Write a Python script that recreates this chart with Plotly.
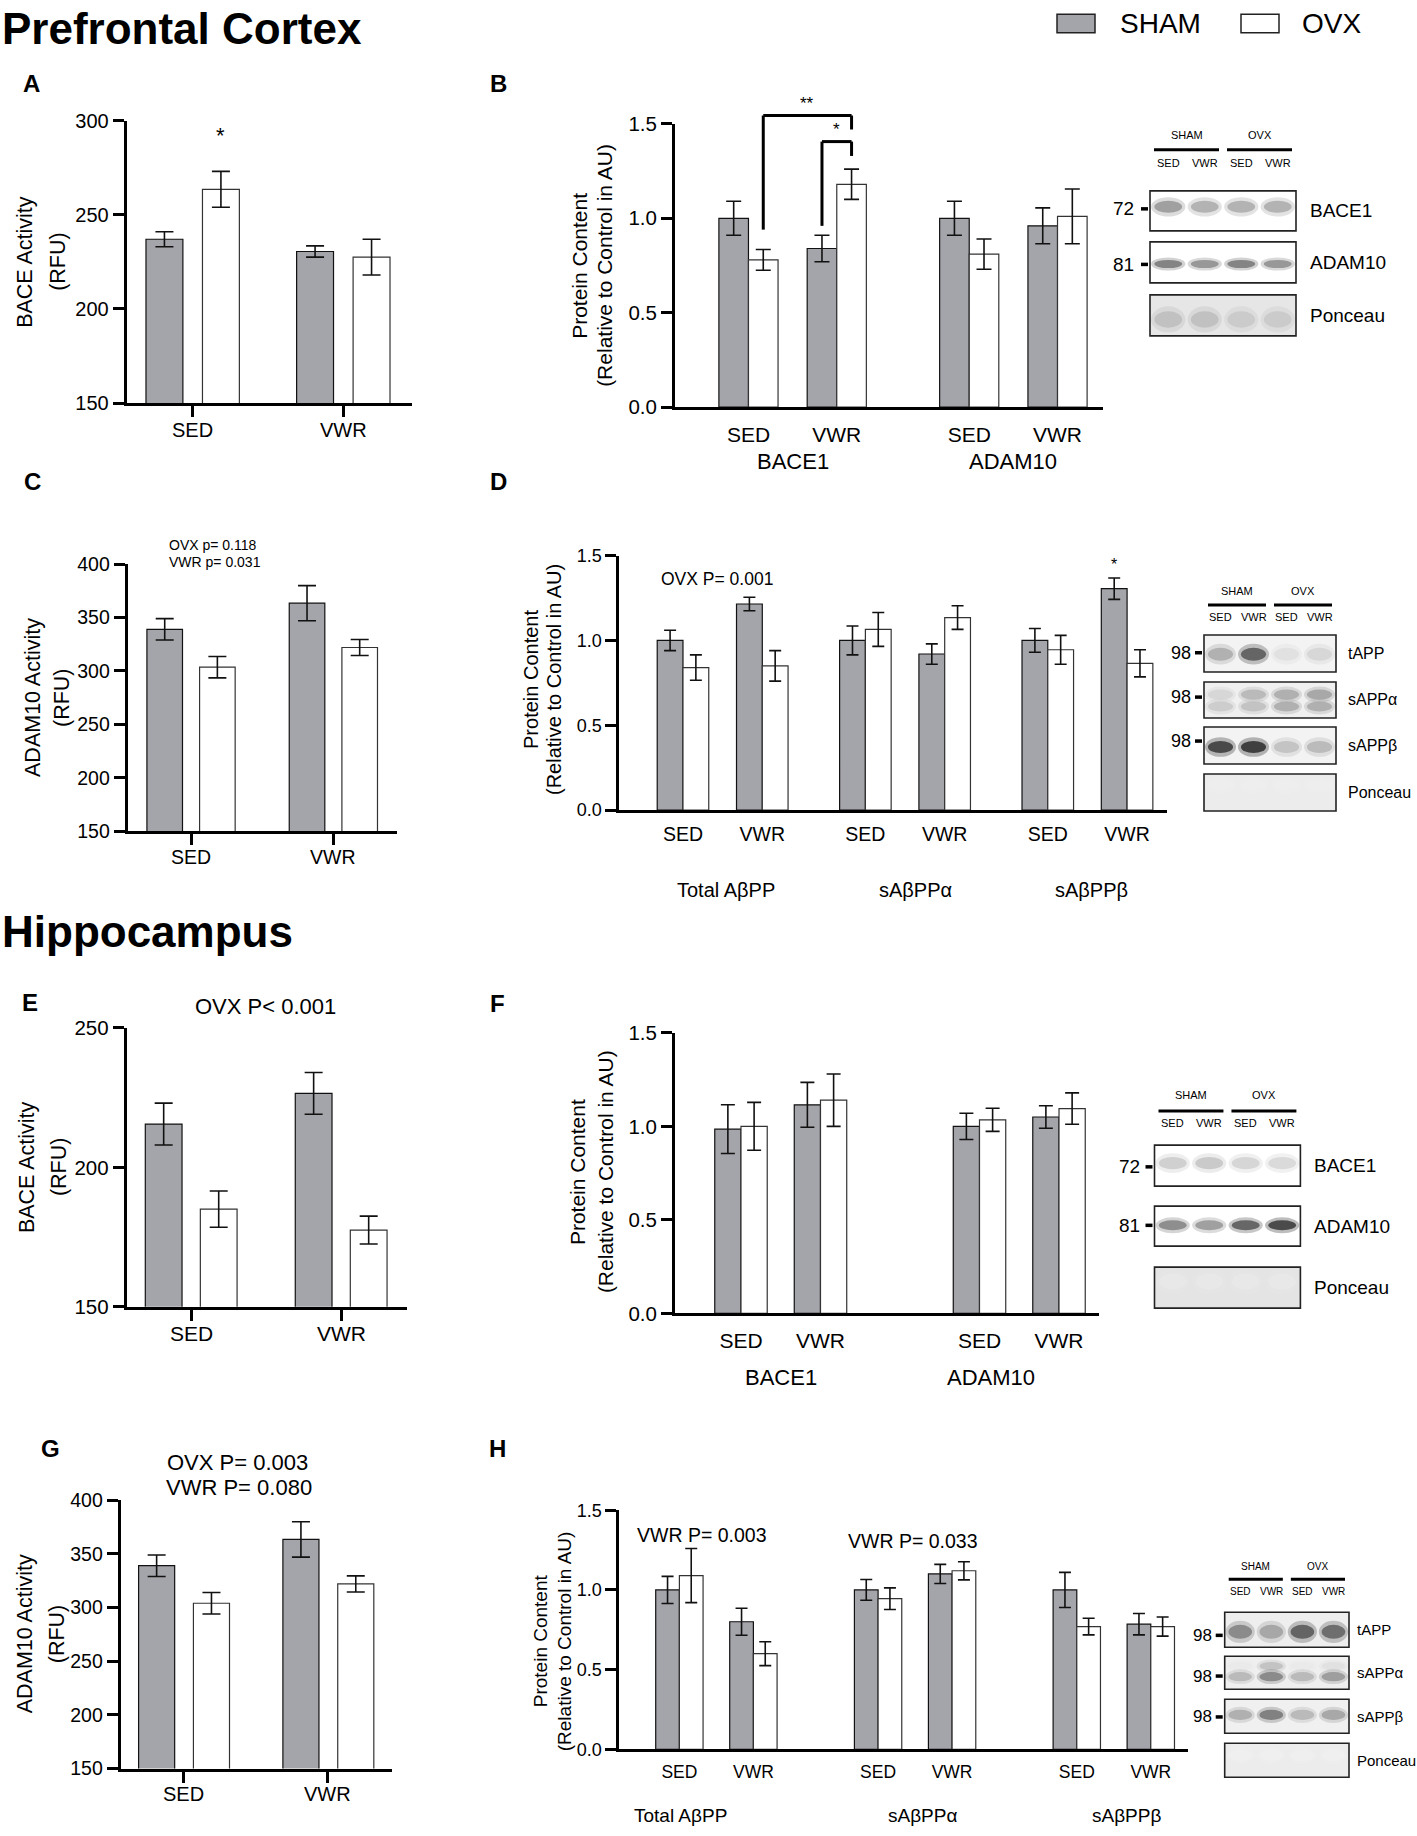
import plotly.graph_objects as go

W, H = 1417, 1836
FONT = "Liberation Sans, Arial, Helvetica, sans-serif"
SHAM_FILL = "#a4a5aa"
# the photographed page shows the figure slightly shifted / compressed vertically;
# layout positions (in reference pixels) are mapped through this correction
V_OFF, V_SC = 12.2, 0.9872

# ------------------------------------------------------------------ data
conditions = ["SED", "VWR"]
enzyme_groups = ["BACE1", "ADAM10"]
app_groups = ["Total AβPP", "sAβPPα", "sAβPPβ"]
blot_lanes = ["SED", "VWR", "SED", "VWR"]
blot_groups = ["SHAM", "OVX"]

# A: PFC BACE activity (RFU)
A_sham = [237.0, 230.5]
A_sham_err = [4.0, 3.0]
A_ovx = [263.5, 227.5]
A_ovx_err = [9.5, 9.5]

# B: PFC BACE1 / ADAM10 protein content (AU)
B_sham = [1.00, 0.84, 1.00, 0.96]
B_sham_err = [0.09, 0.07, 0.09, 0.095]
B_ovx = [0.78, 1.18, 0.81, 1.01]
B_ovx_err = [0.055, 0.08, 0.08, 0.145]
# brackets: (from bar, to bar, top, left leg bottom, right leg bottom, label)
B_brackets = [(("ovx", 0), ("ovx", 1), 1.544, 0.94, 1.47, "**"),
              (("sham", 1), ("ovx", 1), 1.406, 0.96, 1.33, "*")]

# C: PFC ADAM10 activity (RFU)
C_sham = [339.0, 363.5]
C_sham_err = [10.0, 16.5]
C_ovx = [303.5, 322.0]
C_ovx_err = [10.0, 7.5]

# D: PFC APP fragments (AU)
D_sham = [1.00, 1.215, 1.00, 0.92, 1.00, 1.305]
D_sham_err = [0.06, 0.04, 0.085, 0.06, 0.07, 0.063]
D_ovx = [0.84, 0.85, 1.065, 1.135, 0.945, 0.865]
D_ovx_err = [0.075, 0.09, 0.10, 0.07, 0.085, 0.08]

# E: HIP BACE activity (RFU)
E_sham = [215.5, 226.5]
E_sham_err = [7.5, 7.5]
E_ovx = [185.0, 177.5]
E_ovx_err = [6.5, 5.0]

# F: HIP BACE1 / ADAM10 protein content (AU)
F_sham = [0.985, 1.115, 1.00, 1.05]
F_sham_err = [0.13, 0.12, 0.07, 0.06]
F_ovx = [1.00, 1.14, 1.035, 1.095]
F_ovx_err = [0.128, 0.14, 0.062, 0.084]

# G: HIP ADAM10 activity (RFU)
G_sham = [339.0, 363.5]
G_sham_err = [10.0, 16.5]
G_ovx = [304.0, 322.0]
G_ovx_err = [10.0, 7.5]

# H: HIP APP fragments (AU)
H_sham = [1.00, 0.80, 1.00, 1.10, 1.00, 0.785]
H_sham_err = [0.085, 0.085, 0.065, 0.06, 0.11, 0.067]
H_ovx = [1.09, 0.60, 0.945, 1.12, 0.77, 0.77]
H_ovx_err = [0.17, 0.075, 0.068, 0.057, 0.052, 0.06]

# western blot band intensities (0..1), lanes SHAM-SED, SHAM-VWR, OVX-SED, OVX-VWR
blotB_BACE1 = [0.50, 0.40, 0.40, 0.40]
blotB_ADAM10 = [0.65, 0.55, 0.65, 0.55]
blotB_Ponceau = [0.30, 0.30, 0.25, 0.25]
blotD_tAPP = [0.40, 0.80, 0.15, 0.20]
blotD_sAPPa_up = [0.20, 0.35, 0.40, 0.45]
blotD_sAPPa_lo = [0.25, 0.30, 0.40, 0.40]
blotD_sAPPb = [0.95, 1.00, 0.30, 0.35]
blotD_Ponceau = [0.08, 0.08, 0.08, 0.08]
blotF_BACE1 = [0.25, 0.28, 0.22, 0.20]
blotF_ADAM10 = [0.60, 0.50, 0.80, 0.95]
blotF_Ponceau = [0.10, 0.10, 0.10, 0.10]
blotH_tAPP = [0.60, 0.45, 0.80, 0.75]
blotH_sAPPa = [0.35, 0.60, 0.35, 0.50]
blotH_sAPPa_up = [0.10, 0.30, 0.10, 0.15]
blotH_sAPPb = [0.40, 0.65, 0.35, 0.45]
blotH_Ponceau = [0.07, 0.07, 0.07, 0.07]


# ------------------------------------------------------------------ helpers
def X(px):
    return px / W


def Y(py):
    return 1 - ((py - V_OFF) / V_SC) / H


fig = go.Figure()
shapes, anns, axes = [], [], {}


def add_text(x, y, s, size, bold=False, xanchor="center", angle=0,
             xref="paper", yref="paper", xshift=0, color="black"):
    anns.append(dict(
        x=X(x) if xref == "paper" else x,
        y=Y(y) if yref == "paper" else y,
        xref=xref, yref=yref, text=f"<b>{s}</b>" if bold else s,
        showarrow=False, xanchor=xanchor, yanchor="middle", textangle=angle,
        xshift=xshift, font=dict(family=FONT, size=size, color=color)))


def add_line_px(x0, y0, x1, y1, width=3, color="black"):
    shapes.append(dict(type="line", xref="paper", yref="paper",
                       x0=X(x0), y0=Y(y0), x1=X(x1), y1=Y(y1),
                       line=dict(color=color, width=width)))


def add_box_px(x0, y0, x1, y1, fill, lw=1.5, lc="black", kind="rect", opacity=1.0):
    shapes.append(dict(type=kind, xref="paper", yref="paper",
                       x0=X(x0), y0=Y(y1), x1=X(x1), y1=Y(y0),
                       fillcolor=fill, opacity=opacity,
                       line=dict(color=lc, width=lw)))


def add_panel(n, sham, sham_err, ovx, ovx_err, g):
    sfx = "" if n == 1 else str(n)
    xs = [k * g["stride"] + j for k in range(g["ngroups"]) for j in range(len(conditions))]
    common = dict(width=g["barw"], xaxis="x" + sfx, yaxis="y" + sfx, hoverinfo="skip")
    fig.add_trace(go.Bar(
        x=xs, y=sham, offset=g["off"][0],
        marker=dict(color=SHAM_FILL, line=dict(color="#111111", width=1.2)),
        error_y=dict(type="data", array=sham_err, visible=True, color="#111111",
                     thickness=1.6, width=g["cap"]), **common))
    fig.add_trace(go.Bar(
        x=xs, y=ovx, offset=g["off"][1],
        marker=dict(color="white", line=dict(color="#333333", width=1.2)),
        error_y=dict(type="data", array=ovx_err, visible=True, color="#111111",
                     thickness=1.6, width=g["cap"]), **common))
    x0, x1 = g["xpx"]
    y0, y1 = g["ypx"]
    own_labels = "xlabel_y" in g
    axes["xaxis" + sfx] = dict(
        domain=[X(x0), X(x1)], range=g["xrange"], anchor="y" + sfx,
        tickmode="array", tickvals=xs, ticktext=conditions * g["ngroups"],
        showticklabels=not own_labels,
        ticks="outside", ticklen=g["xticklen"], tickwidth=3,
        tickcolor="black" if g["xticks"] else "rgba(0,0,0,0)",
        showline=True, linecolor="black", linewidth=3, showgrid=False, zeroline=False,
        tickfont=dict(family=FONT, size=g["xfont"], color="black"), fixedrange=True)
    axes["yaxis" + sfx] = dict(
        domain=[Y(y1), Y(y0)], range=g["yrange"], anchor="x" + sfx,
        tickmode="linear", tick0=g["yrange"][0], dtick=g["dtick"], tickformat=g.get("fmt", ""),
        ticks="outside", ticklen=11, tickwidth=3, tickcolor="black",
        showline=True, linecolor="black", linewidth=3, showgrid=False, zeroline=False,
        tickfont=dict(family=FONT, size=g["yfont"], color="black"), fixedrange=True)
    if own_labels:
        for xv, lab in zip(xs, conditions * g["ngroups"]):
            add_text(xv, g["xlabel_y"], lab, g["xfont"], xref="x" + sfx)
    return xs


def add_blot(spec):
    bx0, bx1 = spec["x"]
    lane_w = (bx1 - bx0) / len(blot_lanes)
    centers = [bx0 + (i + 0.5) * lane_w for i in range(len(blot_lanes))]
    mid = (bx0 + bx1) / 2
    for k, grp in enumerate(blot_groups):
        gx0, gx1 = (bx0, mid) if k == 0 else (mid, bx1)
        add_text((gx0 + gx1) / 2, spec["hdr_y"], grp, spec["hdr_size"])
        add_line_px(gx0 + 4, spec["line_y"], gx1 - 4, spec["line_y"], width=3)
    for c, lane in zip(centers, blot_lanes):
        add_text(c, spec["lane_y"], lane, spec["lane_size"])
    for row in spec["rows"]:
        ry0, ry1 = row["y"]
        h = ry1 - ry0
        add_box_px(bx0, ry0, bx1, ry1, row["bg"], lw=0)
        for rel_y, rel_h, intens in row["bands"]:
            cy = ry0 + rel_y * h
            for c, I in zip(centers, intens):
                v = int(round(255 * (1 - 0.9 * I)))
                col = f"rgb({v},{v},{v})"
                add_box_px(c - 0.47 * lane_w, cy - rel_h * h * 0.8, c + 0.47 * lane_w,
                           cy + rel_h * h * 0.8, col, lw=0, kind="circle", opacity=0.3)
                add_box_px(c - 0.38 * lane_w, cy - rel_h * h / 2, c + 0.38 * lane_w,
                           cy + rel_h * h / 2, col, lw=0, kind="circle", opacity=0.75)
        add_box_px(bx0, ry0, bx1, ry1, "rgba(0,0,0,0)", lw=1.6, lc="#222222")
        add_text(spec["label_x"], (ry0 + ry1) / 2, row["label"], spec["label_size"], xanchor="left")
        if row.get("mw"):
            my = ry0 + row.get("mw_rel", 0.5) * h
            add_text(spec["mw_x"], my, row["mw"], spec["mw_size"])
            add_line_px(bx0 - 9, my, bx0 - 2, my, width=3.5)


# ------------------------------------------------------------------ geometry (px)
GEOM = {
    "A": dict(xpx=(126.7, 411.7), ypx=(120.7, 403.3), xrange=[-0.438, 1.454], yrange=[150, 300],
              dtick=50, ngroups=1, stride=2, barw=0.245, off=(-0.31, 0.065), cap=9,
              xticks=True, xticklen=11, xfont=20, yfont=20, xlabel_y=430),
    "B": dict(xpx=(675, 1103), ypx=(124, 407.3), xrange=[-0.832, 4.015], yrange=[0, 1.5],
              dtick=0.5, fmt=".1f", ngroups=2, stride=2.5, barw=0.335, off=(-0.335, 0), cap=7.5,
              xticks=False, xticklen=7, xfont=21, yfont=20.5),
    "C": dict(xpx=(127.7, 396.7), ypx=(564.3, 831), xrange=[-0.445, 1.445], yrange=[150, 400],
              dtick=50, ngroups=1, stride=2, barw=0.25, off=(-0.31, 0.06), cap=9,
              xticks=True, xticklen=11, xfont=19.5, yfont=19.5, xlabel_y=856.7),
    "D": dict(xpx=(619.3, 1166.5), ypx=(555.7, 810), xrange=[-0.803, 6.097], yrange=[0, 1.5],
              dtick=0.5, fmt=".1f", ngroups=3, stride=2.3, barw=0.325, off=(-0.325, 0), cap=6,
              xticks=False, xticklen=5, xfont=19.5, yfont=18),
    "E": dict(xpx=(126.7, 406.7), ypx=(1027.7, 1306.7), xrange=[-0.429, 1.438], yrange=[150, 250],
              dtick=50, ngroups=1, stride=2, barw=0.245, off=(-0.305, 0.062), cap=9,
              xticks=True, xticklen=11, xfont=21, yfont=20.5, xlabel_y=1333),
    "F": dict(xpx=(675, 1098.6), ypx=(1032.7, 1313.3), xrange=[-0.83, 4.498], yrange=[0, 1.5],
              dtick=0.5, fmt=".1f", ngroups=2, stride=3, barw=0.33, off=(-0.33, 0), cap=7,
              xticks=False, xticklen=6.5, xfont=21, yfont=20.5),
    "G": dict(xpx=(120.7, 391.7), ypx=(1500, 1768.3), xrange=[-0.434, 1.444], yrange=[150, 400],
              dtick=50, ngroups=1, stride=2, barw=0.25, off=(-0.31, 0.07), cap=9,
              xticks=True, xticklen=11, xfont=20, yfont=19.5, xlabel_y=1794),
    "H": dict(xpx=(619.3, 1187.5), ypx=(1510, 1749), xrange=[-0.812, 6.866], yrange=[0, 1.5],
              dtick=0.5, fmt=".1f", ngroups=3, stride=2.685, barw=0.32, off=(-0.32, 0), cap=6,
              xticks=False, xticklen=5, xfont=17.5, yfont=18),
}

xsA = add_panel(1, A_sham, A_sham_err, A_ovx, A_ovx_err, GEOM["A"])
xsB = add_panel(2, B_sham, B_sham_err, B_ovx, B_ovx_err, GEOM["B"])
xsC = add_panel(3, C_sham, C_sham_err, C_ovx, C_ovx_err, GEOM["C"])
xsD = add_panel(4, D_sham, D_sham_err, D_ovx, D_ovx_err, GEOM["D"])
xsE = add_panel(5, E_sham, E_sham_err, E_ovx, E_ovx_err, GEOM["E"])
xsF = add_panel(6, F_sham, F_sham_err, F_ovx, F_ovx_err, GEOM["F"])
xsG = add_panel(7, G_sham, G_sham_err, G_ovx, G_ovx_err, GEOM["G"])
xsH = add_panel(8, H_sham, H_sham_err, H_ovx, H_ovx_err, GEOM["H"])

# ------------------------------------------------------------------ titles / legend
add_text(0, 28.5, "Prefrontal Cortex", 44, bold=True, xanchor="left")
add_text(0, 931, "Hippocampus", 44, bold=True, xanchor="left")

add_box_px(1057, 14.5, 1095, 33, SHAM_FILL, lw=1.5, lc="#222222")
add_text(1118, 24, "SHAM", 28, xanchor="left")
add_box_px(1241, 14.5, 1279, 33, "white", lw=1.5, lc="#222222")
add_text(1300, 24, "OVX", 28, xanchor="left")

for letter, (lx, ly) in {"A": (31, 84), "B": (498, 84), "C": (32, 482), "D": (498, 482),
                         "E": (30, 1002), "F": (497, 1003), "G": (50, 1448), "H": (497, 1448)}.items():
    add_text(lx, ly, letter, 24, bold=True)

# y-axis titles (two lines each)
ytitles = [
    (["BACE Activity", "(RFU)"], (25, 58), 262, 21.5),
    (["Protein Content", "(Relative to Control in AU)"], (580, 605), 266, 21),
    (["ADAM10 Activity", "(RFU)"], (33, 62), 698, 21.5),
    (["Protein Content", "(Relative to Control in AU)"], (531, 554), 680, 20),
    (["BACE Activity", "(RFU)"], (27, 59), 1167, 21.5),
    (["Protein Content", "(Relative to Control in AU)"], (577, 605), 1172, 21),
    (["ADAM10 Activity", "(RFU)"], (25, 57), 1634, 21.5),
    (["Protein Content", "(Relative to Control in AU)"], (540, 564), 1641, 19),
]
for lines, xs_, yc, size in ytitles:
    for line, lx in zip(lines, xs_):
        add_text(lx, yc, line, size, angle=-90)

# group labels under grouped axes
group_labels = [
    ("x2", xsB, enzyme_groups, 462, 22, [0, 0]),
    ("x4", xsD, app_groups, 890, 20, [3, 10, 4]),
    ("x6", xsF, enzyme_groups, 1377, 22, [0, -28]),
    ("x8", xsH, app_groups, 1815, 19, [-36, 7, 13]),
]
for xref, xs_, labels, ly, size, shifts in group_labels:
    for k, (lab, sh) in enumerate(zip(labels, shifts)):
        gx = (xs_[2 * k] + xs_[2 * k + 1]) / 2
        add_text(gx, ly, lab, size, xref=xref, xshift=sh)

# statistics text
add_text(166.7, 545, "OVX p= 0.118", 14, xanchor="left")
add_text(166.7, 562, "VWR p= 0.031", 14, xanchor="left")
add_text(659, 579, "OVX P= 0.001", 17.5, xanchor="left")
add_text(265, 1006.7, "OVX P&lt; 0.001", 22)
add_text(237, 1462, "OVX P= 0.003", 22)
add_text(239, 1487, "VWR P= 0.080", 22)
add_text(635, 1535, "VWR P= 0.003", 19.5, xanchor="left")
add_text(846, 1541, "VWR P= 0.033", 19.5, xanchor="left")

# significance asterisks
gA = GEOM["A"]
anns.append(dict(x=xsA[0] + gA["off"][1] + gA["barw"] / 2, y=292, xref="x", yref="y",
                 text="*", showarrow=False, font=dict(family=FONT, size=22, color="black")))
gD = GEOM["D"]
anns.append(dict(x=xsD[5] + gD["off"][0] + gD["barw"] / 2, y=1.45, xref="x4", yref="y4",
                 text="*", showarrow=False, font=dict(family=FONT, size=16, color="black")))

# brackets in panel B
gB = GEOM["B"]


def bar_center(which, idx):
    off = gB["off"][0] if which == "sham" else gB["off"][1]
    return xsB[idx] + off + gB["barw"] / 2


ymaxB = gB["yrange"][1]
for (wa, ia), (wb, ib), top, lb, rb, lab in B_brackets:
    xa, xb = bar_center(wa, ia), bar_center(wb, ib)
    for (p0, v0, p1, v1) in [(xa, lb, xa, top), (xa, top, xb, top), (xb, top, xb, rb)]:
        shapes.append(dict(type="line", xref="x2", yref="y2 domain",
                           x0=p0, x1=p1, y0=v0 / ymaxB, y1=v1 / ymaxB,
                           line=dict(color="black", width=3)))
    anns.append(dict(x=(xa + xb) / 2, y=(top + 0.065) / ymaxB, xref="x2", yref="y2 domain",
                     text=lab, showarrow=False, yanchor="middle",
                     font=dict(family=FONT, size=17, color="black")))

# ------------------------------------------------------------------ western blots
add_blot(dict(x=(1150, 1296), hdr_y=135, line_y=150, lane_y=163, hdr_size=11, lane_size=11,
              label_x=1308, label_size=19, mw_x=1123, mw_size=19, rows=[
                  dict(label="BACE1", y=(191, 231), mw="72", mw_rel=0.45, bg="white",
                       bands=[(0.40, 0.30, blotB_BACE1)]),
                  dict(label="ADAM10", y=(242, 283), mw="81", mw_rel=0.55, bg="white",
                       bands=[(0.54, 0.20, blotB_ADAM10)]),
                  dict(label="Ponceau", y=(295, 336), bg="#e6e6e6",
                       bands=[(0.60, 0.40, blotB_Ponceau)]),
              ]))
add_blot(dict(x=(1204, 1336), hdr_y=591, line_y=605, lane_y=617, hdr_size=11, lane_size=11,
              label_x=1346, label_size=16, mw_x=1181, mw_size=18, rows=[
                  dict(label="tAPP", y=(635, 672), mw="98", mw_rel=0.48, bg="#f3f3f3",
                       bands=[(0.52, 0.35, blotD_tAPP)]),
                  dict(label="sAPPα", y=(682, 718), mw="98", mw_rel=0.42, bg="#f0f0f0",
                       bands=[(0.35, 0.28, blotD_sAPPa_up), (0.68, 0.28, blotD_sAPPa_lo)]),
                  dict(label="sAPPβ", y=(727, 764), mw="98", mw_rel=0.38, bg="#f3f3f3",
                       bands=[(0.54, 0.33, blotD_sAPPb)]),
                  dict(label="Ponceau", y=(774, 811), bg="#ececec",
                       bands=[(0.30, 0.30, blotD_Ponceau)]),
              ]))
add_blot(dict(x=(1154.5, 1300.4), hdr_y=1095, line_y=1111, lane_y=1123, hdr_size=11, lane_size=11,
              label_x=1312, label_size=19, mw_x=1129, mw_size=19, rows=[
                  dict(label="BACE1", y=(1145, 1186), mw="72", mw_rel=0.53, bg="white",
                       bands=[(0.44, 0.30, blotF_BACE1)]),
                  dict(label="ADAM10", y=(1206, 1246), mw="81", mw_rel=0.48, bg="white",
                       bands=[(0.48, 0.25, blotF_ADAM10)]),
                  dict(label="Ponceau", y=(1267, 1308), bg="#e4e4e4",
                       bands=[(0.35, 0.40, blotF_Ponceau)]),
              ]))
add_blot(dict(x=(1224.7, 1349), hdr_y=1566, line_y=1579, lane_y=1591, hdr_size=10, lane_size=10,
              label_x=1355, label_size=15, mw_x=1202.5, mw_size=17, rows=[
                  dict(label="tAPP", y=(1612, 1647), mw="98", mw_rel=0.66, bg="#eeeeee",
                       bands=[(0.56, 0.40, blotH_tAPP)]),
                  dict(label="sAPPα", y=(1656, 1689), mw="98", mw_rel=0.60, bg="#efefef",
                       bands=[(0.30, 0.25, blotH_sAPPa_up), (0.62, 0.28, blotH_sAPPa)]),
                  dict(label="sAPPβ", y=(1699, 1733), mw="98", mw_rel=0.52, bg="#f0f0f0",
                       bands=[(0.46, 0.30, blotH_sAPPb)]),
                  dict(label="Ponceau", y=(1743, 1777), bg="#ececec",
                       bands=[(0.35, 0.35, blotH_Ponceau)]),
              ]))

fig.update_layout(
    width=W, height=H, autosize=False,
    margin=dict(l=0, r=0, t=0, b=0, pad=0),
    paper_bgcolor="white", plot_bgcolor="white",
    barmode="overlay", showlegend=False,
    shapes=shapes, annotations=anns,
    font=dict(family=FONT, color="black"),
    **axes,
)

# remove the browser's default page margin so the figure starts at the window corner
PIN = ("document.documentElement.style.margin='0';document.body.style.margin='0';"
       "document.body.style.padding='0';")
fig.write_html("out.html", config={"displayModeBar": False}, post_script=PIN)
